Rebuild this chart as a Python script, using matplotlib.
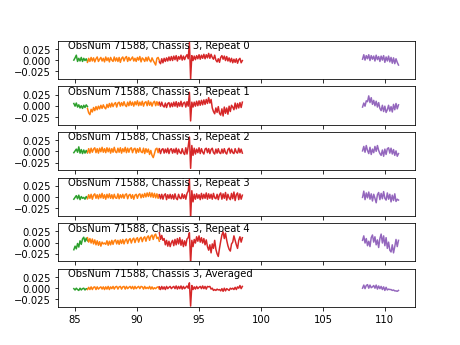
import numpy as np
import matplotlib
matplotlib.use("Agg")
import matplotlib.pyplot as plt

# Segment frequency ranges (GHz)
green_range = (84.9, 86.0)
orange_range = (86.0, 91.8)
red_range = (91.8, 98.5)
purple_range = (108.2, 111.1)

labels = ["ObsNum 71588, Chassis 3, Repeat 0",
          "ObsNum 71588, Chassis 3, Repeat 1",
          "ObsNum 71588, Chassis 3, Repeat 2",
          "ObsNum 71588, Chassis 3, Repeat 3",
          "ObsNum 71588, Chassis 3, Repeat 4",
          "ObsNum 71588, Chassis 3, Averaged"]

# values in units of 1e-3 (K)
green_0 = [0, 5, 11, -3, 4, -2, 6, -3, 4, -1, 3, -3]
orange_0 = [-5, 4, -3, 6, -2, 5, -4, 3, 7, -3, 2, 6, -2, 4, -4, 7, -1, 5, -4, 6, 0, -3, 7, -2, 5, -3, 6, -5, 4, 7,
            -2, 5, 8, -3, 6, -1, 3, 7, -2, 4, -3, 6, 0, 8, -4, 5, 2, -3, 6, -2, 7, 0, -4, 5, -1, -6, -11, 4, 6, -1]
red_0 = [-4, -8, 3, -6, 4, -3, 5, -2, 7, -1, 8,
         -1, 9, 1, 10, -2, 8, 2, 11, 0, 9, 1, 8, 12, 3,
         40, -42, 10,
         -1, 9, 1, 10, 3, 12, 2, 11, 4, 13, 3, 12, 5,
         15, 4, 13, 6, 2, 11, 0, -4, 3, -5,
         6, 10, 2, 9, -1, 8, -2, 5, -4, 4, -6, 2, -5, 3, -7, 1, 4, -6, -1]
purple_0 = [2, 12, 0, 10, 3, 12, -1, 10, 2, 9, -2, 11, 1, 8, -3, 9, 0, 10, -5, 7, -2, 9, -4, 6, -7, 5, -8, 3, -5, -11]

green_1 = [5, -1, 6, -3, 2, -5, 0, -6, 1, -4, 2, -2]
orange_1 = [-6, -16, -20, -8, -14, -4, -11, -2, -9, -1, -7, 1, -6, 2, -4, -7, 3, -4, 5, -3, 6, -2, 4, 7, -3, 6,
            8, -1, 7, 0, 9, 1, -2, 8, 0, 10, 1, 8, -1, 9, 2, 11, 0, 8, 1, 10, -1, 7, 9, 0, 11, 1, 8, -1, 7, 10, 0,
            9, 1, 8]
red_1 = [7, -1, 8, 0, -3, 6, -4, 5, 7, -3, 6,
         -2, 8, -1, 9, -3, 7, -1, 10, -2, 6, 8, -3, 9, -1,
         30, -34, 8,
         -3, 8, -1, 10, 0, 11, 1, 12, 2, 13, 3, 14, 5,
         18, 6, 14, -5, -13, -18, -5, -15, -2, -17,
         -21, -7, -23, -3, -17, -5, -19, -1, -13, 1, -3, -9, 6, -7, 5, -5, 7, -4, 8]
purple_1 = [-3, 6, -1, 11, 9, 22, 7, 18, 3, 12, 0, 10, -3, 7, -6, -11, 1, -13, -1, -15, -9, 1, -12, -2, -14, 3,
            -9, 5, -7, 2]

green_2 = [-3, 1, 5, -2, 10, -4, 4, -5, 3, -4, 2, -3]
orange_2 = [-3, 6, -4, 7, -2, 5, 8, -3, 6, -4, 7, -1, 9, -2, 6, -3, 8, -1, 7, -4, 6, -2, 9, -1, -3, 7, -2, 8, -4,
            6, -1, 9, -3, 7, -2, 6, 8, -3, 5, 7, -4, 6, -2, 8, -1, -3, 7, -5, 6, -2, 5, -7, 2, -9, -14, -5, 5, 7,
            -3, 6]
red_2 = [5, -5, 4, 6, -4, 5, -3, 7, -5, 4, 6,
         -4, 5, -3, 7, -6, 5, -2, -5, 6, -3, -7, 8, -6, 11,
         32, -38, 13,
         -9, 7, -6, 5, -3, 8, -5, 6, -2, -6, 5, 7, -3,
         6, -5, 4, 7, -3, -6, 5, -4, 6, -3,
         -5, 5, -4, 6, -3, -6, 4, 7, -4, 5, -3, -5, 6, -2, -4, 7, -3, 5, -4]
purple_2 = [1, 11, -2, 13, 2, -5, 9, -7, 5, -3, 11, 0, 13, 2, -5, -9, 3, -11, 5, -7, 6, 8, -4, 7, -6, 4, -9, 1,
            -11, -5]

green_3 = [-5, -1, 3, -4, 4, -6, 1, -3, -1, -5, 1, -3]
orange_3 = [-4, 5, -3, 6, -5, 4, 7, -3, 5, -4, 6, -2, 8, -3, 5, -5, 6, -2, 7, -3, 5, -4, 6, -2, -3, 7, -4, 5, -2,
            6, -3, 5, 7, -4, 4, 6, -3, 5, -5, 4, 6, -3, 5, 7, -2, 6, -1, 8, 0, 9, 1, 10, 0, 9, -1, 8, -2, 7, -3, 5]
red_3 = [5, -4, 6, -5, 4, 7, -6, 5, -3, 6, -4,
         5, -5, 7, -3, -6, 6, -2, -4, 7, -3, 5, -5, 8, 13,
         40, -48, 14,
         -11, 6, -5, 7, -3, 5, -6, 8, -4, 6, -3, 9, -5,
         7, -3, 6, -5, 8, -2, -4, 6, -6, 5,
         9, -5, 7, -3, 10, -7, 6, -2, -6, 8, -4, 11, -8, 5, 9, -6, 7, -5, 4]
purple_3 = [-1, 13, -6, 9, -2, 11, -5, 7, -9, 6, -3, -13, 5, 10, -6, 8, -4, 12, -3, -7, 9, -5, 6, -11, 4, -8, 7,
            -10, -5, -7]

green_4 = [-16, -8, -14, -2, -10, 4, -4, 8, 12, 2, 10, 4]
orange_4 = [11, 1, 9, -1, 8, -3, 6, -5, 4, -6, 2, -8, 1, -3, -1, -4, 4, -6, 3, -5, 5, -4, 4, 6, -3, 5, -4, 6, -2,
            7, -3, 5, 8, -2, 6, 9, -1, 7, 10, 0, 8, 11, 1, 9, 12, 2, 10, 13, 3, 12, 15, 5, 14, 17, 7, 16, 19, 9, 12,
            3]
red_4 = [22, 7, 16, 5, 9, -5, 5, -8, 3, -9, 0,
         5, -7, 7, -5, 9, -3, 11, -6, 6, -9, 4, -7, 8, 11,
         22, -47, 5,
         -9, 7, -1, 13, 3, 15, 1, 11, -1, 9, -5, 6, -9,
         -17, -5, -23, -3, -13, 5, -15, -25, -31, -13,
         3, 17, 24, 9, 21, 5, -7, -15, -19, -3, 1, 15, 5, -5, -13, 5, 13, 1, 11]
purple_4 = [5, 15, -1, 9, -7, 3, -9, 11, 17, 1, 13, -5, 6, -11, 9, 19, -1, 15, -7, 11, -13, 1, -17, -21, -5, -23,
            -9, 7, -9, 5]

green_5 = [-1, -4, 0, -3, -5, 0, -4, -1, 0, -4, -1, -2]
orange_5 = [-3, 2, -3, 3, -3, 2, 3, -3, 3, -2, 1, 3, -2, 3, -3, 3, -2, 4, -3, 3, -1, 4, -2, 3, 4, -2, 3, 4, -2, 3,
            4, -2, 4, -1, 2, 4, -1, 4, -2, 4, -1, 2, 4, -1, 4, 3, -2, 4, -1, 2, -1, 4, -2, 3, -2, 1, -1, 2, 3, -2]
red_5 = [3, -3, 4, -2, 3, -3, 4, -1, 2, 4, -1,
         2, 4, -1, 5, -2, 4, -1, 5, -2, 4, -1, 2, 5, 0,
         12, -40, 6,
         -3, 3, -2, 4, -1, 2, 4, -1, 5, -1, 4, -2, 4,
         3, 4, -2, 0, -5, -3, -5, -2, -4, -3,
         -6, -1, -7, 0, -6, -1, -3, -5, 0, -2, 0, -3, 2, -3, 3, 0, 6, -1, 4]
purple_5 = [0, 7, -1, 6, 8, 0, 7, 1, 3, 6, 0, 7, -2, 5, -1, 4, -3, 3, -5, 2, -4, -2, -3, -3, -5, -4, -6, -6, -7, -5]

panels = [
    (green_0, orange_0, red_0, purple_0),
    (green_1, orange_1, red_1, purple_1),
    (green_2, orange_2, red_2, purple_2),
    (green_3, orange_3, red_3, purple_3),
    (green_4, orange_4, red_4, purple_4),
    (green_5, orange_5, red_5, purple_5),
]
ranges = [green_range, orange_range, red_range, purple_range]
colors = ["tab:green", "tab:orange", "tab:red", "tab:purple"]

fig, axes = plt.subplots(6, 1, sharex=True, sharey=True, figsize=(6.4, 4.8), dpi=72)
for ax, segs, lab in zip(axes, panels, labels):
    for vals, (lo, hi), c in zip(segs, ranges, colors):
        x = np.linspace(lo, hi, len(vals))
        ax.plot(x, np.array(vals) * 1e-3, color=c, lw=1.5)
    ax.text(0.03, 0.8, lab, transform=ax.transAxes, va="baseline", ha="left", fontsize=10)
axes[0].set_ylim(-0.042, 0.043)
axes[0].set_yticks([-0.025, 0.0, 0.025])
axes[-1].set_xticks([85, 90, 95, 100, 105, 110])
fig.savefig("out.png", dpi=72)
